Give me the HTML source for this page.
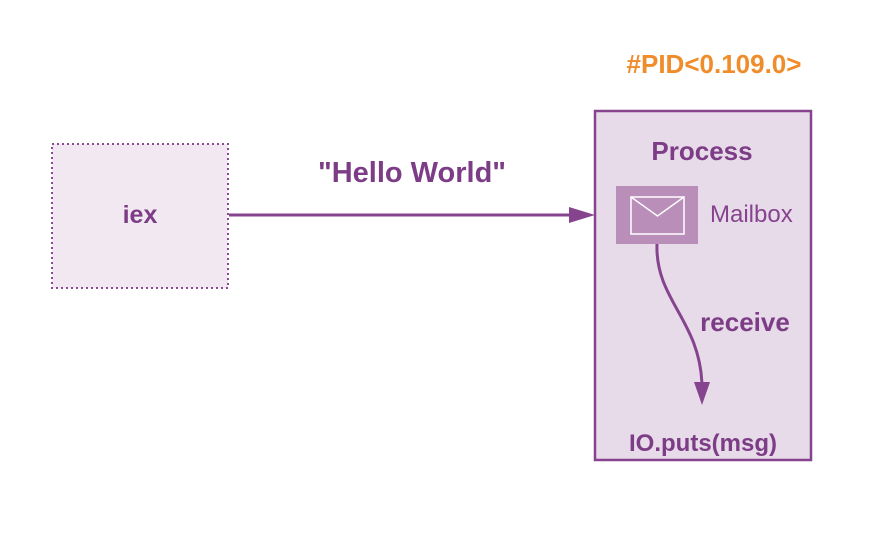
<!DOCTYPE html>
<html><head><style>body{margin:0;background:#fff}svg{display:block}</style></head><body>
<svg width="880" height="556" xmlns="http://www.w3.org/2000/svg" font-family="Liberation Sans, sans-serif">
<rect width="880" height="556" fill="#fff"/>
<text x="714" y="73" text-anchor="middle" font-size="26" font-weight="bold" fill="#f08c2a">#PID&lt;0.109.0&gt;</text>
<rect x="52" y="144" width="176" height="144" fill="#f1e8f1" stroke="#8a4a92" stroke-width="2" stroke-dasharray="2,3"/>
<text x="140" y="223" text-anchor="middle" font-size="25" font-weight="bold" fill="#7c3d86">iex</text>
<text x="412" y="182" text-anchor="middle" font-size="29" font-weight="bold" fill="#7c3d86">"Hello World"</text>
<line x1="229" y1="215" x2="575" y2="215" stroke="#86438e" stroke-width="3"/>
<polygon points="595,215 569,207 569,223" fill="#86438e"/>
<rect x="595" y="111" width="216" height="349" fill="#e7dae9" stroke="#86438e" stroke-width="2.5"/>
<text x="702" y="160" text-anchor="middle" font-size="26" font-weight="bold" fill="#7c3d86">Process</text>
<rect x="616" y="186" width="82" height="58" fill="#b98eb9"/>
<rect x="631" y="197" width="53" height="37" fill="none" stroke="#fff" stroke-width="1.5"/>
<polyline points="631,197 657.5,216 684,197" fill="none" stroke="#fff" stroke-width="1.5"/>
<text x="710" y="222" font-size="24" fill="#86438e">Mailbox</text>
<path d="M657,244 C655,300 700,320 702,385" fill="none" stroke="#86438e" stroke-width="3"/>
<polygon points="702,405 694,382 710,382" fill="#86438e"/>
<text x="745" y="331" text-anchor="middle" font-size="26" font-weight="bold" fill="#7c3d86">receive</text>
<text x="703" y="451" text-anchor="middle" font-size="24" font-weight="bold" fill="#7c3d86">IO.puts(msg)</text>
</svg>
</body></html>
